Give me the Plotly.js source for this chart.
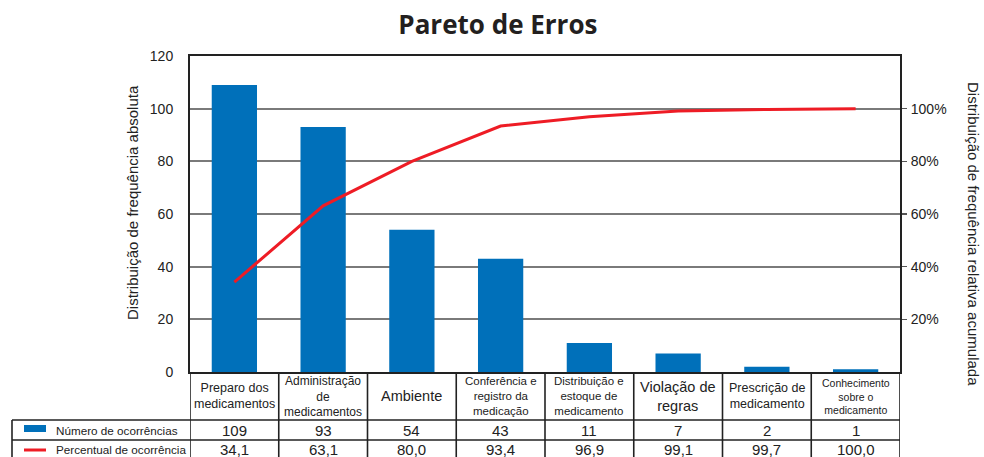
<!DOCTYPE html>
<html>
<head>
<meta charset="utf-8">
<script src="https://cdn.plot.ly/plotly-3.0.1.min.js"></script>
<style>html,body{margin:0;padding:0;background:#fff;}#chart{width:984px;height:457px;}</style>
</head>
<body>
<div id="chart"></div>
<script>
const categories = [
  "Preparo dos<br>medicamentos",
  "Administração<br>de<br>medicamentos",
  "Ambiente",
  "Conferência e<br>registro da<br>medicação",
  "Distribuição e<br>estoque de<br>medicamento",
  "Violação de<br>regras",
  "Prescrição de<br>medicamento",
  "Conhecimento<br>sobre o<br>medicamento"
];
const occurrences = [109, 93, 54, 43, 11, 7, 2, 1];
const cumulativePct = [34.1, 63.1, 80.0, 93.4, 96.9, 99.1, 99.7, 100.0];
const pctLabels = ["34,1", "63,1", "80,0", "93,4", "96,9", "99,1", "99,7", "100,0"];
const rowLabels = ["Número de ocorrências", "Percentual de ocorrência"];

// style only
const labelSizes = [12.5, 12, 14.5, 11.5, 11.5, 14.5, 12.5, 10.5];
const FONT = "Liberation Sans, Arial, sans-serif";
const W = 984, H = 457, L = 190, R = 900, T = 56, B = 372;
const px = X => (X - L) / (R - L);
const py = Y => (B - Y) / (B - T);
const xIdx = categories.map((_, i) => i);

const traces = [
  {
    type: "bar", x: xIdx, y: occurrences, width: 0.51,
    marker: {color: "#0070BA"}, name: rowLabels[0], hoverinfo: "skip"
  },
  {
    type: "scatter", mode: "lines", x: xIdx, y: cumulativePct.map(v => v / 100),
    yaxis: "y2", line: {color: "#EE1C25", width: 3}, name: rowLabels[1], hoverinfo: "skip"
  }
];

const annotations = [];
const shapes = [];
categories.forEach((c, i) => {
  annotations.push({xref: "x", yref: "paper", x: i, y: py(396), text: c, showarrow: false,
    xanchor: "center", yanchor: "middle", font: {family: FONT, size: labelSizes[i], color: "#222"}});
  annotations.push({xref: "x", yref: "paper", x: i, y: py(430), text: String(occurrences[i]), showarrow: false,
    xanchor: "center", yanchor: "middle", font: {family: FONT, size: 15, color: "#222"}});
  annotations.push({xref: "x", yref: "paper", x: i, y: py(449.5), text: pctLabels[i], showarrow: false,
    xanchor: "center", yanchor: "middle", font: {family: FONT, size: 15, color: "#222"}});
});
annotations.push({xref: "paper", yref: "paper", x: px(54), y: py(430), text: rowLabels[0], showarrow: false,
  xanchor: "left", yanchor: "middle", font: {family: FONT, size: 11.7, color: "#222"}});
annotations.push({xref: "paper", yref: "paper", x: px(54), y: py(449.5), text: rowLabels[1], showarrow: false,
  xanchor: "left", yanchor: "middle", font: {family: FONT, size: 11.7, color: "#222"}});
annotations.push({xref: "paper", yref: "paper", x: px(132), y: py(203), text: "Distribuição de frequência absoluta",
  showarrow: false, textangle: -90, xanchor: "center", yanchor: "middle", font: {family: FONT, size: 15, color: "#222"}});
annotations.push({xref: "paper", yref: "paper", x: px(974), y: py(234), text: "Distribuição de frequência relativa acumulada",
  showarrow: false, textangle: 90, xanchor: "center", yanchor: "middle", font: {family: FONT, size: 15, color: "#222"}});

const lineStyle = {color: "#222", width: 1.6};
// table grid
for (let i = 0; i <= categories.length; i++) {
  shapes.push({type: "line", xref: "x", yref: "paper", x0: i - 0.5, x1: i - 0.5, y0: py(372), y1: py(460), line: lineStyle});
}
shapes.push({type: "line", xref: "paper", yref: "paper", x0: px(12), x1: px(12), y0: py(420), y1: py(460), line: lineStyle});
shapes.push({type: "line", xref: "paper", yref: "paper", x0: px(12), x1: 1, y0: py(420), y1: py(420), line: lineStyle});
shapes.push({type: "line", xref: "paper", yref: "paper", x0: px(12), x1: 1, y0: py(440), y1: py(440), line: lineStyle});
// legend keys
shapes.push({type: "rect", xref: "paper", yref: "paper", x0: px(24), x1: px(46), y0: py(425), y1: py(432),
  fillcolor: "#0070BA", line: {width: 0}});
shapes.push({type: "line", xref: "paper", yref: "paper", x0: px(24), x1: px(46), y0: py(450), y1: py(450),
  line: {color: "#EE1C25", width: 3}});

const layout = {
  width: W, height: H,
  margin: {l: L, r: W - R, t: T, b: H - B, pad: 0},
  paper_bgcolor: "#fff", plot_bgcolor: "#fff",
  showlegend: false,
  title: {text: "<b>Pareto de Erros</b>", x: 0.506, xref: "container", y: 1 - 25 / H, yref: "container",
    xanchor: "center", yanchor: "middle", font: {family: "Open Sans, sans-serif", size: 26, color: "#231f20"}},
  xaxis: {range: [-0.5, 7.5], showticklabels: false, ticks: "", showgrid: false, zeroline: false,
    showline: true, linecolor: "#222", linewidth: 2, mirror: true},
  yaxis: {range: [0, 120], dtick: 20, showgrid: true, gridcolor: "#7a7a7a", gridwidth: 1.8, zeroline: false,
    showline: true, linecolor: "#222", linewidth: 2, ticks: "", ticklabelstandoff: 12,
    tickfont: {family: FONT, size: 14, color: "#222"}},
  yaxis2: {range: [0, 1.2], overlaying: "y", side: "right", tickvals: [0.2, 0.4, 0.6, 0.8, 1.0],
    tickformat: ".0%", showgrid: false, zeroline: false, showline: true, linecolor: "#222", linewidth: 2,
    ticks: "outside", ticklen: 5, tickcolor: "#555", tickwidth: 1.5, ticklabelstandoff: 1,
    tickfont: {family: FONT, size: 14, color: "#222"}},
  annotations: annotations,
  shapes: shapes
};

Plotly.newPlot("chart", traces, layout, {displayModeBar: false, staticPlot: true});
</script>
</body>
</html>
